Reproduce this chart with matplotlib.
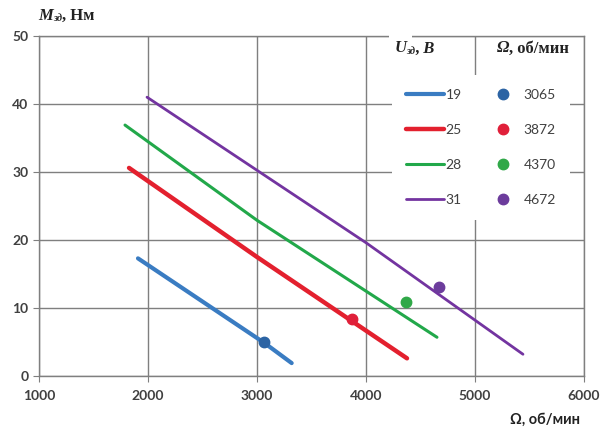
import matplotlib
matplotlib.use("Agg")
import matplotlib.pyplot as plt

# данные
u_labels = ["19", "25", "28", "31"]
omega_19 = [1908, 3073, 3318]
m_19 = [17.3, 4.8, 1.9]
omega_25 = [1826, 3000, 4376]
m_25 = [30.6, 17.5, 2.6]
omega_28 = [1789, 3000, 4651]
m_28 = [36.9, 22.9, 5.7]
omega_31 = [1991, 4000, 5440]
m_31 = [41.0, 19.6, 3.2]

dot_omega = [3065, 3872, 4370, 4672]
dot_m = [5.0, 8.4, 10.9, 13.1]
dot_labels = ["3065", "3872", "4370", "4672"]

x_ticks = [1000, 2000, 3000, 4000, 5000, 6000]
y_ticks = [0, 10, 20, 30, 40, 50]

line_colors = ["#3a7cc2", "#e3202e", "#22a84a", "#7334a0"]
line_widths = [3.0, 3.2, 2.2, 2.0]
dot_colors = ["#2c64a4", "#e0203a", "#30a848", "#6c3c9c"]

GRID = "#7f7f7f"
TXT = "#404040"
SERIF = "Liberation Serif"
SANS = "Lato"

fig = plt.figure(figsize=(6.03, 4.32), dpi=100)
ax = fig.add_axes([0.0647, 0.1296, 0.9038, 0.7871])

series = [(omega_19, m_19), (omega_25, m_25), (omega_28, m_28), (omega_31, m_31)]
line_handles = []
for (xs, ys), c, lw, lab in zip(series, line_colors, line_widths, u_labels):
    h, = ax.plot(xs, ys, color=c, lw=lw, solid_capstyle="round",
                 solid_joinstyle="round", label=lab, zorder=3)
    line_handles.append(h)

dot_handles = []
for xv, yv, c, lab in zip(dot_omega, dot_m, dot_colors, dot_labels):
    h, = ax.plot([xv], [yv], "o", color=c, ms=7.5, ls="none", label=lab, zorder=4)
    dot_handles.append(h)

ax.set_xlim(1000, 6000)
ax.set_ylim(0, 50)
ax.set_xticks(x_ticks)
ax.set_yticks(y_ticks)
ax.grid(True, color=GRID, lw=1.0, zorder=0)
ax.set_axisbelow(True)
for s in ax.spines.values():
    s.set_color(GRID)
    s.set_linewidth(1.0)
ax.tick_params(direction="out", length=4, color=GRID, labelcolor=TXT, labelsize=10)
ax.tick_params(axis="x", pad=6)
for t in ax.get_xticklabels() + ax.get_yticklabels():
    t.set_fontfamily(SANS)
    t.set_fontweight("bold")

leg = ax.legend(line_handles + dot_handles, u_labels + dot_labels, ncol=2,
                loc="upper left", bbox_to_anchor=(0.648, 0.885),
                frameon=True, fancybox=False, framealpha=1.0,
                facecolor="white", edgecolor="none",
                handlelength=2.7, handletextpad=0.15, columnspacing=1.6,
                labelspacing=1.65, borderpad=1.0, borderaxespad=0,
                prop={"family": SANS, "size": 10}, labelcolor=TXT)
leg.set_zorder(5)


def sub_label(x, y, main, sub, tail, coords, size=12, main_style="italic",
              tail_style="normal", bg=False):
    kw = dict(fontfamily=SERIF, fontweight="bold", color="#222222", va="bottom")
    bbox = dict(facecolor="white", edgecolor="none", pad=4) if bg else None
    t1 = ax.annotate(main, xy=(x, y), xycoords=coords, fontsize=size,
                     fontstyle=main_style, annotation_clip=False, zorder=6,
                     bbox=bbox, **kw)
    last = t1
    if sub:
        t2 = ax.annotate(sub, xy=(1, 0.02), xycoords=t1, fontsize=size * 0.62,
                         fontstyle="italic", annotation_clip=False, zorder=6, **kw)
        last = t2
    ax.annotate(tail, xy=(1, 0), xycoords=(last, t1), fontsize=size,
                fontstyle=tail_style, annotation_clip=False, zorder=6, **kw)


# подпись оси Y
sub_label(0.063, 0.945, "M", "зд", ", Нм", "figure fraction", size=12)

# заголовки легенды
sub_label(0.652, 0.94, "U", "зд", ", B", "axes fraction", size=12,
          tail_style="italic", bg=True)
sub_label(0.84, 0.94, "Ω", "", ", об/мин", "axes fraction", size=12)

# подпись оси X
fig.text(0.962, 0.028, "Ω, об/мин", ha="right", va="center",
         fontfamily=SANS, fontweight="bold", fontsize=10.5, color="#222222")

fig.savefig("out.png", dpi=100)
